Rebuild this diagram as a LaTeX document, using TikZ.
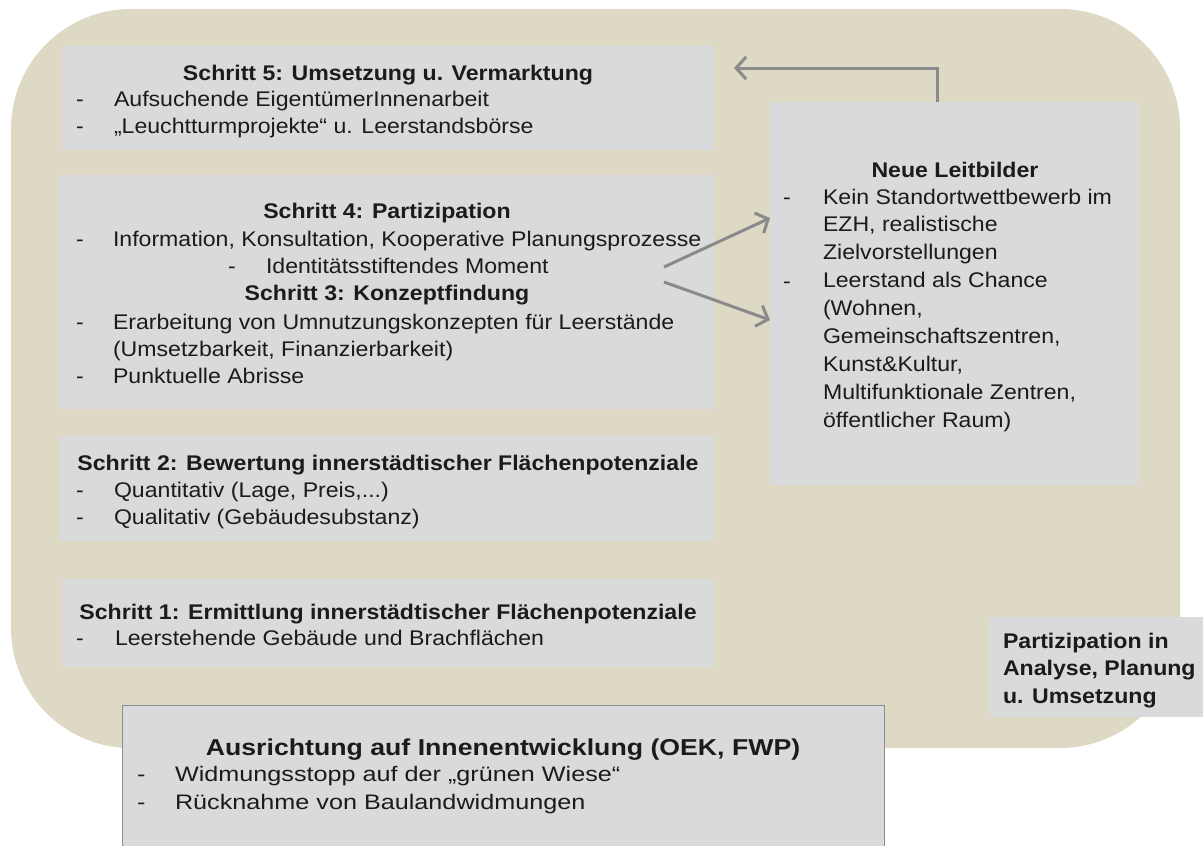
\documentclass[tikz,border=0pt]{standalone}
\usepackage{fontspec}
\setmainfont{Liberation Sans}[FakeStretch=1.09]
\newfontfamily\wideA{Liberation Sans}[FakeStretch=1.16]
\newfontfamily\wideB{Liberation Sans}[FakeStretch=1.2]
\usetikzlibrary{arrows.meta,calc}
\definecolor{beige}{HTML}{DDD9C4}
\definecolor{boxg}{HTML}{D9DADC}
\definecolor{txtc}{HTML}{1E1A1B}
\definecolor{arrg}{HTML}{8A8A8A}
\definecolor{bord}{HTML}{8C8C8C}
\begin{document}
\begin{tikzpicture}[x=1pt,y=-1pt,
  box/.style={fill=boxg, draw=none, inner sep=0pt, outer sep=0pt, anchor=north west},
  txt/.style={font=\fontsize{21.2}{25}\selectfont, text=txtc, inner sep=0pt, outer sep=0pt},
  ttl/.style={txt, font=\fontsize{21.2}{25}\selectfont\bfseries, anchor=base},
  itm/.style={txt, anchor=base west},
  bitm/.style={txt, font=\fontsize{21.2}{25}\selectfont\bfseries, anchor=base west},
  autl/.style={txt, font=\wideA\fontsize{23}{28}\selectfont\bfseries, anchor=base},
  auitm/.style={txt, font=\wideB\fontsize{21}{28}\selectfont, anchor=base west},
  arr/.style={draw=arrg, line width=3pt, -{Straight Barb[length=10pt,width=22pt]}}]
\useasboundingbox (0,0) rectangle (1203,846);
\fill[beige, rounded corners=120pt] (11,9) rectangle (1180,748);

% boxes
\node[box, minimum width=652pt, minimum height=104pt] (s5) at (62,46) {};
\node[box, minimum width=656pt, minimum height=234pt] (s43) at (58,175) {};
\node[box, minimum width=654pt, minimum height=105pt] (s2) at (60,436) {};
\node[box, minimum width=652pt, minimum height=88pt] (s1) at (62,579) {};
\node[box, minimum width=369pt, minimum height=383pt] (nl) at (770,102) {};
\node[box, minimum width=220pt, minimum height=100pt] (pa) at (989,617) {};
\node[box, draw=bord, line width=1pt, minimum width=762pt, minimum height=160pt] (au) at (122,705) {};

% arrows
\coordinate (fbend) at (734,68);
\draw[arr] ([xshift=167pt]nl.north west) |- (fbend);
\coordinate (d1) at (664,267);
\coordinate (d2) at (664,282);
\draw[arr] (d1) -- ([yshift=-116pt]nl.north west);
\draw[arr] (d2) -- ([yshift=-218pt]nl.north west);

% Schritt 5
\node[ttl] (s5t) at (388,80) {Schritt 5: Umsetzung u. Vermarktung};
\node[itm] (s5d1) at (76,106) {-};
\node[itm] (s5i1) at (114,106) {Aufsuchende EigentümerInnenarbeit};
\node[itm] (s5d2) at (76,133) {-};
\node[itm] (s5i2) at (114,133) {„Leuchtturmprojekte“ u. Leerstandsbörse};

% Schritt 4 / 3
\node[ttl] (s4t) at (387,218) {Schritt 4: Partizipation};
\node[itm] (s4d1) at (76,246) {-};
\node[itm] (s4i1) at (113,246) {Information, Konsultation, Kooperative Planungsprozesse};
\node[itm] (s4d2) at (228,273) {-};
\node[itm] (s4i2) at (266,273) {Identitätsstiftendes Moment};
\node[ttl] (s3t) at (387,300) {Schritt 3: Konzeptfindung};
\node[itm] (s3d1) at (76,329) {-};
\node[itm] (s3i1) at (113,329) {Erarbeitung von Umnutzungskonzepten für Leerstände};
\node[itm] (s3i1b) at (113,356) {(Umsetzbarkeit, Finanzierbarkeit)};
\node[itm] (s3d2) at (76,383) {-};
\node[itm] (s3i2) at (113,383) {Punktuelle Abrisse};

% Schritt 2
\node[ttl] (s2t) at (388,470) {Schritt 2: Bewertung innerstädtischer Flächenpotenziale};
\node[itm] (s2d1) at (76,497) {-};
\node[itm] (s2i1) at (114,497) {Quantitativ (Lage, Preis,...)};
\node[itm] (s2d2) at (76,524) {-};
\node[itm] (s2i2) at (114,524) {Qualitativ (Gebäudesubstanz)};

% Schritt 1
\node[ttl] (s1t) at (388,619) {Schritt 1: Ermittlung innerstädtischer Flächenpotenziale};
\node[itm] (s1d1) at (76,645) {-};
\node[itm] (s1i1) at (115,645) {Leerstehende Gebäude und Brachflächen};

% Neue Leitbilder
\node[ttl] (nlt) at (955,177) {Neue Leitbilder};
\node[itm] (nld1) at (783,204) {-};
\node[itm] (nld2) at (783,288) {-};
\foreach \t [count=\i] in {Kein Standortwettbewerb im, {EZH, realistische}, Zielvorstellungen, Leerstand als Chance, {(Wohnen,}, {Gemeinschaftszentren,}, {Kunst\&Kultur,}, {Multifunktionale Zentren,}, {öffentlicher Raum)}}
  \node[itm] (nli\i) at (823,{204+27.9*(\i-1)}) {\t};

% Partizipation
\node[bitm] (pa1) at (1003,648) {Partizipation in};
\node[bitm] (pa2) at (1003,675) {Analyse, Planung};
\node[bitm] (pa3) at (1003,703) {u. Umsetzung};

% Ausrichtung
\node[autl] (aut) at (503,755) {Ausrichtung auf Innenentwicklung (OEK, FWP)};
\node[auitm] (aud1) at (137,781) {-};
\node[auitm] (aui1) at (175,781) {Widmungsstopp auf der „grünen Wiese“};
\node[auitm] (aud2) at (137,809) {-};
\node[auitm] (aui2) at (175,809) {Rücknahme von Baulandwidmungen};
\end{tikzpicture}
\end{document}
